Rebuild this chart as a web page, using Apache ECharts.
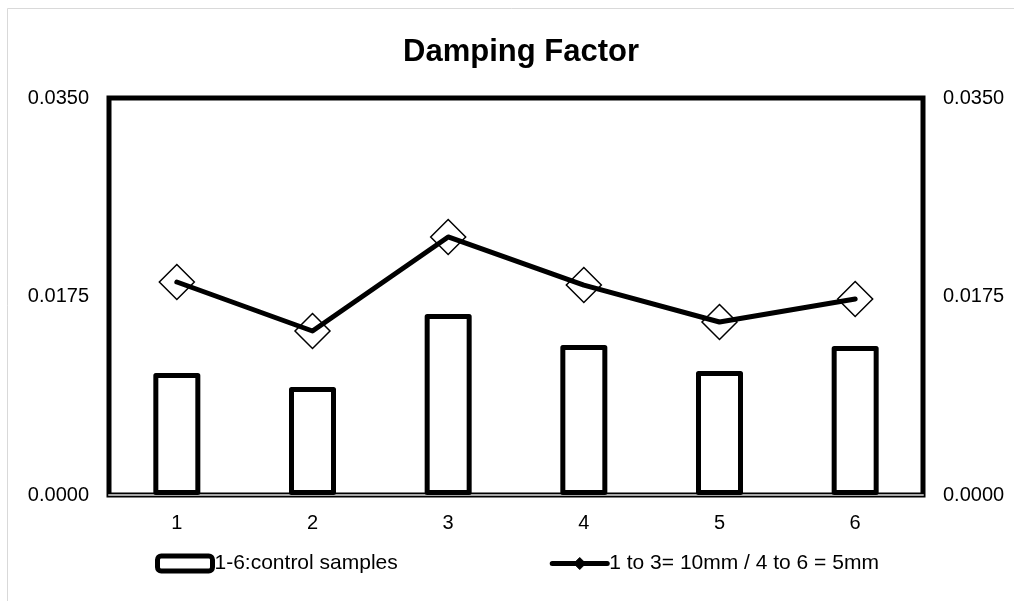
<!DOCTYPE html>
<html>
<head>
<meta charset="utf-8">
<script src="https://cdn.jsdelivr.net/npm/echarts@6/dist/echarts.min.js"></script>
<style>
  html, body { margin: 0; padding: 0; background: #fff; }
  #chart { width: 1014px; height: 601px; }
</style>
</head>
<body>
<div id="chart"></div>
<script>
// Sample numbers along the x axis
const categories = ['1', '2', '3', '4', '5', '6'];
// Damping factor of the control samples (bars)
const controlValues = [0.01076, 0.00952, 0.01596, 0.01322, 0.01093, 0.01314];
// Damping factor for the thickness series (line)
const thicknessValues = [0.01878, 0.01446, 0.02275, 0.01851, 0.01525, 0.01728];
// Value axis ticks
const yTicks = [0.0, 0.0175, 0.035];

const seriesNames = ['1-6:control samples', '1 to 3= 10mm / 4 to 6 = 5mm'];
const font = '"Liberation Sans", Arial, sans-serif';

const chart = echarts.init(document.getElementById('chart'), null, { renderer: 'canvas' });

const yAxisBase = {
  type: 'value',
  min: yTicks[0],
  max: yTicks[yTicks.length - 1],
  interval: yTicks[1] - yTicks[0],
  axisLine: { show: false },
  axisTick: { show: false },
  splitLine: { show: false },
  axisLabel: {
    color: '#000',
    fontFamily: font,
    fontSize: 20,
    margin: 20,
    formatter: v => v.toFixed(4)
  }
};

chart.setOption({
  backgroundColor: '#fff',
  animation: false,
  title: {
    text: 'Damping Factor',
    left: 516,
    top: 32,
    textAlign: 'center',
    textStyle: { fontFamily: font, fontSize: 31, fontWeight: 'bold', color: '#000' }
  },
  graphic: [{
    type: 'rect',
    shape: { x: 7.5, y: 8.5, width: 1100, height: 700 },
    style: { fill: 'none', stroke: '#d9d9d9', lineWidth: 1 },
    silent: true,
    z: -10
  }],
  legend: {
    left: 150,
    top: 548,
    itemGap: 152,
    itemWidth: 55,
    itemHeight: 15,
    textStyle: { fontFamily: font, fontSize: 21, color: '#000', padding: [0, 0, 0, -3] },
    data: [
      { name: seriesNames[0], itemStyle: { color: '#fff', borderColor: '#000', borderWidth: 5 } },
      {
        name: seriesNames[1],
        itemStyle: { color: '#000', borderColor: '#000', borderWidth: 1 },
        lineStyle: { color: '#000', width: 5 }
      }
    ]
  },
  grid: {
    left: 109,
    right: 91,
    top: 98,
    bottom: 106,
    show: true,
    borderColor: '#000',
    borderWidth: 5,
    backgroundColor: 'transparent'
  },
  xAxis: [
    {
      type: 'category',
      data: categories,
      axisLine: { show: false },
      axisTick: { show: false },
      axisLabel: { color: '#000', fontFamily: font, fontSize: 20, margin: 18 }
    },
    {
      type: 'category',
      data: categories,
      position: 'bottom',
      offset: 4,
      axisLine: { show: true, lineStyle: { color: '#a6a6a6', width: 2 } },
      axisTick: { show: false },
      axisLabel: { show: false }
    }
  ],
  yAxis: [
    Object.assign({}, yAxisBase, { position: 'left' }),
    Object.assign({}, yAxisBase, { position: 'right' })
  ],
  series: [
    {
      name: seriesNames[0],
      type: 'bar',
      data: controlValues,
      barWidth: 47,
      itemStyle: { color: '#fff', borderColor: '#000', borderWidth: 5, borderJoin: 'round' },
      z: 2
    },
    {
      name: seriesNames[1],
      type: 'line',
      data: thicknessValues,
      symbol: 'diamond',
      symbolSize: 35,
      showAllSymbol: true,
      lineStyle: { color: '#000', width: 5, cap: 'round', join: 'round' },
      itemStyle: { color: 'rgba(255,255,255,0)', borderColor: '#000', borderWidth: 1.5 },
      z: 3
    }
  ]
});
</script>
</body>
</html>
